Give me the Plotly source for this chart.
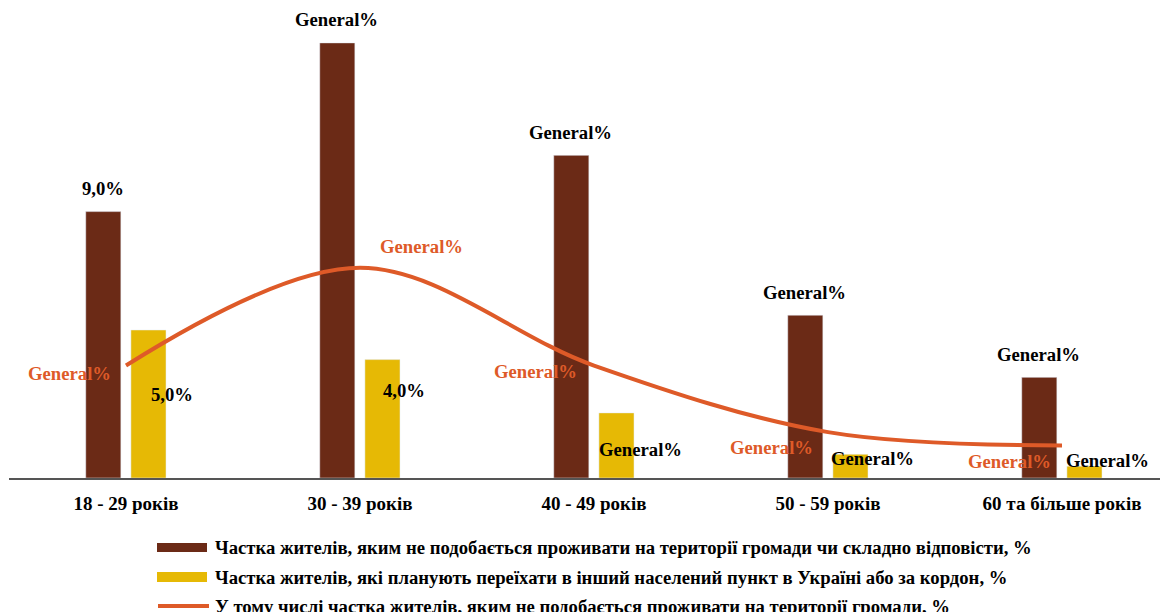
import plotly.graph_objects as go

categories = ["18 - 29 років", "30 - 39 років", "40 - 49 років", "50 - 59 років", "60 та більше років"]
dislike = [9.0, 14.7, 10.9, 5.5, 3.4]
move = [5.0, 4.0, 2.2, 0.8, 0.4]
dislike_sub = [3.8, 7.1, 3.8, 1.55, 1.1]

dislike_labels = ["9,0%", "General%", "General%", "General%", "General%"]
move_labels = ["5,0%", "4,0%", "General%", "General%", "General%"]
sub_labels = ["General%"] * 5

series_names = [
    "Частка жителів, яким не подобається проживати на території громади чи складно відповісти, %",
    "Частка жителів, які планують переїхати в інший населений пункт в Україні або за кордон, %",
    "У тому числі частка жителів, яким не подобається проживати на території громади, %",
]

BROWN = "#6B2A16"
YELLOW = "#E6B905"
ORANGE = "#DE5A28"
FONT = "Liberation Serif, Times New Roman, serif"

# page is offset by 8px body margin
OFF = 8
W, H = 1168, 612
ML, MR, MT = 9 - OFF, 0, 0
BASE = 478 - OFF
PW = W - ML - MR
PH = BASE - MT
MB = H - BASE
SCALE = 29.6  # px per unit

fig = go.Figure()
fig.add_trace(go.Bar(x=categories, y=dislike, marker_color=BROWN, width=0.15, offset=-0.172,
                     name=series_names[0], showlegend=False))
fig.add_trace(go.Bar(x=categories, y=move, marker_color=YELLOW, width=0.15, offset=0.021,
                     name=series_names[1], showlegend=False))
fig.add_trace(go.Scatter(x=categories, y=dislike_sub, mode="lines",
                         line=dict(color=ORANGE, width=4, shape="spline", smoothing=1.0),
                         name=series_names[2], showlegend=False))

annos = []
LBL = 18.7
move_dx = [24, 22, 24, 22, 23]
move_dy = [-64, -31, -37, -4, 6]
sub_dx = [-57, 61, -59, -57, -53]
sub_dy = [-8, 21, -6, -15, -16]
for i, c in enumerate(categories):
    annos.append(dict(x=c, y=dislike[i], text="<b>" + dislike_labels[i] + "</b>", showarrow=False,
                      xshift=-23.5, yshift=23, font=dict(family=FONT, size=LBL, color="black")))
    annos.append(dict(x=c, y=move[i], text="<b>" + move_labels[i] + "</b>", showarrow=False,
                      xshift=22 + move_dx[i], yshift=move_dy[i], font=dict(family=FONT, size=LBL, color="black")))
    annos.append(dict(x=c, y=dislike_sub[i], text="<b>" + sub_labels[i] + "</b>", showarrow=False,
                      xshift=sub_dx[i], yshift=sub_dy[i], font=dict(family=FONT, size=LBL, color=ORANGE)))

# manual legend (page pixel positions converted to paper coords)
def px_x(p):
    return (p - OFF - ML) / PW

def px_y(p):
    return (BASE - (p - OFF)) / PH

shapes = []
leg_rows = [547, 577, 606]
shapes.append(dict(type="rect", xref="paper", yref="paper", x0=px_x(157), x1=px_x(207),
                   y0=px_y(552), y1=px_y(543), fillcolor=BROWN, line_width=0))
shapes.append(dict(type="rect", xref="paper", yref="paper", x0=px_x(157), x1=px_x(207),
                   y0=px_y(582), y1=px_y(572), fillcolor=YELLOW, line_width=0))
shapes.append(dict(type="line", xref="paper", yref="paper", x0=px_x(158), x1=px_x(209),
                   y0=px_y(606), y1=px_y(606), line=dict(color=ORANGE, width=4)))
for r, name in zip(leg_rows, series_names):
    annos.append(dict(xref="paper", yref="paper", x=px_x(213), y=px_y(r), text="<b>" + name + "</b>",
                      showarrow=False, xanchor="left", yanchor="middle",
                      font=dict(family=FONT, size=LBL, color="black")))

fig.update_layout(
    width=W, height=H,
    margin=dict(l=ML, r=MR, t=MT, b=MB, pad=0),
    plot_bgcolor="white", paper_bgcolor="white",
    barmode="overlay",
    showlegend=False,
    annotations=annos,
    shapes=shapes,
    font=dict(family=FONT, size=19, color="black"),
    xaxis=dict(range=[-0.5, -0.5 + PW / 234.0], showline=True, linecolor="#555555", linewidth=1.5,
               showgrid=False, ticks="", tickfont=dict(family=FONT, size=19, color="black"),
               ticklabelstandoff=7, tickprefix="<b>", ticksuffix="</b>"),
    yaxis=dict(range=[0, PH / SCALE], visible=False, showgrid=False, zeroline=False),
)

fig.write_html("out.html")
